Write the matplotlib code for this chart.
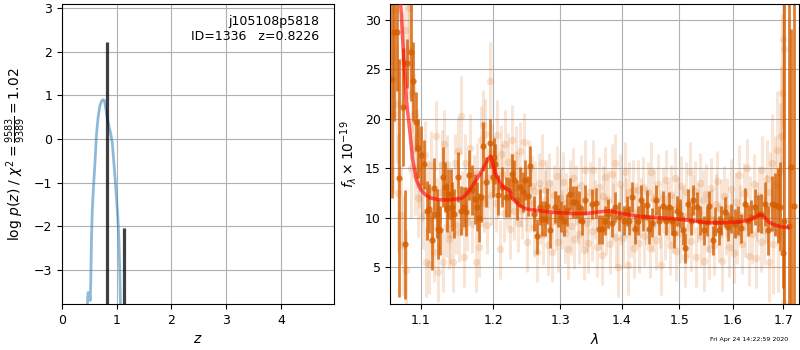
import numpy as np
import matplotlib
matplotlib.use('Agg')
import matplotlib.pyplot as plt
from matplotlib.ticker import NullLocator

# p(z) curve (log p(z) vs z)
pz_z = [0.46, 0.475, 0.50, 0.515, 0.525, 0.54, 0.555, 0.575, 0.60, 0.63, 0.66,
        0.69, 0.72, 0.75, 0.775, 0.80, 0.83, 0.86, 0.89, 0.92, 0.945, 0.97,
        0.995, 1.02, 1.04, 1.055, 1.07]
pz_logp = [-3.9, -3.52, -3.52, -3.7, -3.3, -2.2, -1.6, -1.1, -0.6, 0.1, 0.5,
           0.75, 0.86, 0.9, 0.88, 0.7, 0.45, 0.28, 0.12, -0.1, -0.5, -0.9,
           -1.35, -1.8, -2.3, -3.0, -3.9]

# redshift peaks drawn as vertical bars
peak_z = [0.815, 1.138]
peak_logp = [2.22, -2.03]

# binned spectrum (dark points)
dark_wave = [1.0622, 1.0651, 1.0685, 1.0715, 1.0762, 1.0792, 1.0822, 1.0865, 1.0899, 1.0934,
             1.0965, 1.1000, 1.1044, 1.1082, 1.1110, 1.1145, 1.1170, 1.1210, 1.1230, 1.1255,
             1.1300, 1.1320, 1.1345, 1.1362, 1.1400, 1.1420, 1.1450, 1.1496, 1.1537, 1.1580,
             1.1616, 1.1650, 1.1691, 1.1735, 1.1760, 1.1794, 1.1820, 1.1856, 1.1893, 1.1946,
             1.1990, 1.2013, 1.2026, 1.2070, 1.2123, 1.2177, 1.2222, 1.2266, 1.2302, 1.2337,
             1.2392, 1.2428, 1.2460, 1.2506, 1.2541, 1.2596, 1.2643, 1.2689, 1.2721, 1.2768,
             1.2804, 1.2851, 1.2922, 1.2969, 1.3016, 1.3064, 1.3112, 1.3159, 1.3208, 1.3256,
             1.3295, 1.3353, 1.3387, 1.3516, 1.3581, 1.3614, 1.3679, 1.3723, 1.3778, 1.3834,
             1.3889, 1.3945, 1.4029, 1.4080, 1.4125, 1.4171, 1.4228, 1.4268, 1.4325, 1.4366,
             1.4423, 1.4470, 1.4516, 1.4586, 1.4645, 1.4704, 1.4763, 1.4811, 1.4870, 1.4912,
             1.4954, 1.5014, 1.5062, 1.5110, 1.5153, 1.5214, 1.5256, 1.5323, 1.5385, 1.5446,
             1.5508, 1.5552, 1.5615, 1.5666, 1.5729, 1.5779, 1.5844, 1.5907, 1.5971, 1.6035,
             1.6099, 1.6163, 1.6228, 1.6294, 1.6359, 1.6425, 1.6491, 1.6557, 1.6624, 1.6691,
             1.6759, 1.6827, 1.6895, 1.6936, 1.6998, 1.7010, 1.7109, 1.7160, 1.7214]
dark_flux = [24.0, 28.8, 28.8, 14.0, 21.2, 7.3, 25.6, 26.8, 23.8, 19.7,
             17.0, 16.3, 15.4, 10.7, 10.9, 7.7, 13.0, 10.4, 8.8, 8.7,
             14.1, 13.1, 11.0, 12.4, 12.4, 11.1, 10.4, 14.1, 10.7, 11.1,
             10.6, 14.3, 12.8, 11.9, 11.1, 10.0, 12.1, 17.2, 13.6, 17.5,
             14.1, 16.1, 15.4, 12.3, 13.1, 12.1, 12.1, 14.4, 13.8, 11.8,
             13.1, 12.6, 13.8, 12.2, 15.2, 10.4, 8.1, 11.1, 9.9, 9.9,
             11.2, 8.7, 11.1, 10.7, 10.1, 9.7, 10.8, 12.4, 11.6, 11.6,
             11.1, 9.7, 11.8, 11.4, 11.5, 8.8, 8.8, 9.7, 10.4, 9.5,
             11.1, 10.1, 9.7, 10.7, 9.7, 12.1, 8.8, 9.7, 11.8, 10.1,
             11.3, 8.8, 9.5, 11.8, 9.7, 11.2, 9.7, 11.1, 9.7, 8.4,
             10.7, 10.4, 8.7, 6.9, 11.4, 9.7, 11.8, 11.1, 9.7, 8.7,
             9.6, 11.2, 7.7, 9.6, 8.7, 9.7, 10.6, 9.1, 9.9, 9.4,
             9.7, 8.9, 11.4, 9.7, 10.1, 11.1, 10.4, 10.4, 11.4, 8.7,
             11.4, 11.3, 11.2, 11.1, 6.4, 9.7, 9.2, 15.1, 11.2]
dark_err = [12, 9, 6, 12, 6, 5.5, 2.5, 5, 4, 3,
            3, 3, 2.5, 3, 2.5, 3, 3, 2.5, 3, 2.5,
            3, 2.5, 2.5, 2.5, 2.5, 2.5, 2.5, 2.5, 2.5, 2,
            2.5, 2.5, 2.5, 2.5, 2.5, 2.5, 2.5, 2.5, 2.5, 2.5,
            2, 2, 2, 2, 2, 2, 2, 2, 2, 2,
            2, 2, 2, 2, 2, 1.8, 1.8, 1.8, 1.8, 1.8,
            1.8, 1.8, 1.6, 1.6, 1.6, 1.6, 1.6, 1.6, 1.6, 1.6,
            1.6, 1.5, 1.5, 1.5, 1.5, 1.5, 1.5, 1.5, 1.5, 1.5,
            1.5, 1.5, 1.5, 1.5, 1.5, 1.5, 1.5, 1.5, 1.5, 1.5,
            1.5, 1.5, 1.5, 1.5, 1.5, 1.5, 1.5, 1.5, 1.5, 1.5,
            1.5, 1.5, 1.5, 1.5, 1.5, 1.5, 1.5, 1.5, 1.5, 1.5,
            1.5, 1.5, 1.5, 1.5, 1.5, 1.5, 1.5, 1.5, 1.5, 1.5,
            1.5, 1.5, 1.6, 1.6, 1.7, 1.8, 1.9, 2.0, 2.2, 2.5,
            2.8, 3.2, 3.8, 4.5, 3.5, 25, 25, 14, 25]

# unbinned spectrum (light points)
light_wave = [1.0635, 1.0660, 1.0690, 1.0705, 1.0735, 1.0750, 1.0770, 1.0785, 1.0800, 1.0830,
              1.0845, 1.0870, 1.0880, 1.0905, 1.0920, 1.0945, 1.0960, 1.0980, 1.1010, 1.1025,
              1.1055, 1.1070, 1.1090, 1.1110, 1.1130, 1.1150, 1.1170, 1.1195, 1.1215, 1.1230,
              1.1255, 1.1275, 1.1295, 1.1310, 1.1330, 1.1350, 1.1370, 1.1390, 1.1410, 1.1430,
              1.1455, 1.1475, 1.1495, 1.1515, 1.1540, 1.1555, 1.1580, 1.1600, 1.1625, 1.1650,
              1.1670, 1.1700, 1.1720, 1.1745, 1.1760, 1.1790, 1.1815, 1.1830, 1.1850, 1.1870,
              1.1885, 1.1905, 1.1925, 1.1950, 1.1970, 1.1985, 1.2010, 1.2030, 1.2050, 1.2070,
              1.2090, 1.2110, 1.2130, 1.2150, 1.2170, 1.2190, 1.2215, 1.2235, 1.2255, 1.2275,
              1.2300, 1.2325, 1.2345, 1.2365, 1.2385, 1.2405, 1.2425, 1.2450, 1.2475, 1.2500,
              1.2520, 1.2545, 1.2570, 1.2595, 1.2620, 1.2645, 1.2670, 1.2690, 1.2715, 1.2740,
              1.2760, 1.2785, 1.2810, 1.2830, 1.2855, 1.2880, 1.2905, 1.2930, 1.2955, 1.2975,
              1.3000, 1.3025, 1.3050, 1.3075, 1.3100, 1.3125, 1.3150, 1.3175, 1.3200, 1.3225,
              1.3250, 1.3275, 1.3300, 1.3325, 1.3350, 1.3375, 1.3400, 1.3425, 1.3450, 1.3480,
              1.3505, 1.3530, 1.3560, 1.3585, 1.3615, 1.3640, 1.3665, 1.3695, 1.3720, 1.3745,
              1.3775, 1.3800, 1.3830, 1.3855, 1.3885, 1.3910, 1.3940, 1.3965, 1.3995, 1.4020,
              1.4050, 1.4075, 1.4105, 1.4130, 1.4160, 1.4190, 1.4215, 1.4245, 1.4270, 1.4300,
              1.4330, 1.4360, 1.4385, 1.4415, 1.4445, 1.4475, 1.4505, 1.4530, 1.4560, 1.4590,
              1.4620, 1.4650, 1.4680, 1.4710, 1.4740, 1.4770, 1.4800, 1.4830, 1.4860, 1.4890,
              1.4920, 1.4950, 1.4980, 1.5010, 1.5040, 1.5070, 1.5100, 1.5130, 1.5160, 1.5190,
              1.5220, 1.5250, 1.5280, 1.5310, 1.5340, 1.5370, 1.5400, 1.5430, 1.5460, 1.5490,
              1.5520, 1.5550, 1.5580, 1.5610, 1.5640, 1.5670, 1.5700, 1.5735, 1.5765, 1.5795,
              1.5830, 1.5860, 1.5890, 1.5920, 1.5955, 1.5985, 1.6015, 1.6050, 1.6080, 1.6110,
              1.6145, 1.6175, 1.6210, 1.6240, 1.6275, 1.6305, 1.6340, 1.6370, 1.6405, 1.6440,
              1.6470, 1.6505, 1.6540, 1.6570, 1.6605, 1.6640, 1.6670, 1.6705, 1.6735, 1.6765,
              1.6795, 1.6830, 1.6860, 1.6890, 1.6920, 1.6950, 1.6975, 1.7000, 1.7020, 1.7005]
light_flux = [20.5, 31.0, 21.5, 12.5, 10.3, 25.8, 7.2, 29.0, 4.7, 27.0,
              31.2, 15.0, 22.6, 20.5, 14.3, 17.0, 12.0, 15.0, 13.2, 10.3,
              16.3, 5.5, 12.8, 5.3, 15.3, 9.9, 6.5, 18.3, 11.0, 4.5,
              12.6, 15.4, 5.5, 17.4, 9.0, 15.4, 7.8, 8.3, 12.0, 5.5,
              15.5, 9.3, 16.7, 8.5, 20.3, 11.7, 6.0, 15.5, 9.6, 12.7,
              17.0, 9.4, 13.3, 5.5, 14.5, 7.0, 17.8, 12.0, 19.4, 11.5,
              18.5, 9.3, 14.0, 23.8, 12.3, 16.5, 15.3, 11.5, 18.4, 13.0,
              6.8, 16.4, 14.4, 10.5, 17.4, 12.0, 15.6, 8.8, 13.5, 17.9,
              10.7, 16.3, 13.0, 9.5, 16.7, 12.0, 10.8, 17.6, 11.6, 7.5,
              14.8, 11.5, 13.2, 9.0, 12.7, 6.5, 13.5, 10.3, 15.5, 8.2,
              11.8, 12.8, 7.2, 13.5, 10.8, 6.5, 12.3, 9.7, 14.2, 7.5,
              12.0, 9.8, 13.6, 8.4, 11.5, 6.8, 12.8, 9.2, 14.0, 7.8,
              12.3, 10.4, 8.3, 13.3, 10.0, 6.7, 14.8, 9.5, 7.4, 12.6,
              8.6, 14.8, 10.8, 7.0, 13.1, 9.7, 6.2, 12.2, 14.1, 9.2,
              11.8, 7.3, 14.4, 10.5, 15.5, 8.0, 5.0, 13.4, 10.2, 7.9,
              14.6, 11.0, 5.2, 12.6, 9.0, 12.8, 6.9, 10.5, 12.8, 7.4,
              11.0, 13.1, 8.1, 10.2, 12.6, 6.9, 14.6, 9.5, 11.9, 7.7,
              13.4, 9.9, 5.2, 12.0, 8.7, 13.8, 10.6, 7.2, 12.3, 9.4,
              14.0, 6.6, 11.1, 8.4, 13.2, 10.2, 6.0, 12.6, 9.0, 14.6,
              7.6, 11.3, 12.7, 6.0, 10.5, 13.5, 8.1, 11.8, 5.6, 12.4,
              9.6, 6.8, 13.0, 9.9, 7.2, 11.4, 13.7, 8.5, 10.9, 5.6,
              12.2, 9.2, 11.0, 7.0, 12.9, 9.6, 6.4, 11.6, 8.3, 14.3,
              10.3, 7.3, 12.5, 9.0, 15.0, 6.1, 11.2, 8.3, 13.4, 5.9,
              10.6, 12.2, 7.5, 14.8, 8.7, 10.9, 13.9, 5.5, 12.6, 15.5,
              7.3, 13.3, 16.8, 8.5, 14.6, 18.3, 22.6, 28.1, 27.1, 1.4]
light_err = [8, 6, 6, 6, 5, 5, 5, 5, 4, 5,
             6, 5, 4, 4, 4, 4, 4, 4, 3.5, 3.5,
             3.5, 3.5, 3, 3, 3.5, 3, 3, 3.5, 3, 3,
             3, 3.5, 3, 3.5, 3, 3, 3, 3, 3, 3,
             3, 3, 3.5, 3, 4, 3, 3, 3, 3, 3,
             3.5, 3, 3, 3, 3, 3, 3.5, 3, 3.5, 3,
             3.5, 3, 3, 4, 3, 3, 3, 3, 3.5, 3,
             3, 3, 3, 3, 3.5, 3, 3, 3, 3, 3.5,
             3, 3, 3, 3, 3, 3, 3, 3, 3, 3,
             3, 3, 3, 3, 3, 3, 3, 3, 3, 3,
             3, 3, 3, 3, 3, 3, 3, 3, 3, 3,
             3, 3, 3, 3, 3, 3, 3, 3, 3, 3,
             3, 3, 3, 3, 3, 3, 3, 3, 3, 3,
             3, 3, 3, 3, 3, 3, 3, 3, 3, 3,
             3, 3, 3, 3, 3, 3, 3, 3, 3, 3,
             3, 3, 3, 3, 3, 3, 3, 3, 3, 3,
             3, 3, 3, 3, 3, 3, 3, 3, 3, 3,
             3, 3, 3, 3, 3, 3, 3, 3, 3, 3,
             3, 3, 3, 3, 3, 3, 3, 3, 3, 3,
             3, 3, 3, 3, 3, 3, 3, 3, 3, 3,
             3, 3, 3, 3, 3, 3, 3, 3, 3, 3,
             3, 3, 3, 3, 3, 3, 3, 3, 3, 3,
             3, 3, 3, 3, 3, 3, 3, 3, 3, 3,
             3, 3, 3, 3.5, 3.5, 3.5, 4, 4, 4, 5,
             5, 5, 6, 6, 7, 7, 8, 9, 9, 8]

# best-fit model
model_wave = [1.0650, 1.0700, 1.0740, 1.0780, 1.0810, 1.0857, 1.0890, 1.0940, 1.1000, 1.1060,
              1.1120, 1.1250, 1.1390, 1.1550, 1.1610, 1.1660, 1.1720, 1.1780, 1.1840, 1.1890,
              1.1930, 1.1960, 1.2035, 1.2090, 1.2140, 1.2235, 1.2282, 1.2380, 1.2475, 1.2612,
              1.2834, 1.2945, 1.3230, 1.3460, 1.3620, 1.3790, 1.4010, 1.4300, 1.4590, 1.4870,
              1.5170, 1.5480, 1.5790, 1.6110, 1.6310, 1.6440, 1.6540, 1.6600, 1.6700, 1.6840,
              1.6970, 1.7090]
model_flux = [38.0, 34.5, 31.0, 25.5, 21.8, 18.5, 15.9, 13.8, 12.8, 12.3,
              12.0, 11.8, 11.8, 11.95, 12.3, 12.8, 13.4, 14.1, 14.8, 15.5,
              16.0, 16.2, 14.4, 13.6, 13.1, 12.76, 11.9, 11.24, 10.9, 10.74,
              10.57, 10.5, 10.4, 10.45, 10.57, 10.7, 10.4, 10.13, 10.0, 9.9,
              9.73, 9.5, 9.46, 9.56, 9.73, 10.06, 10.3, 10.13, 9.56, 9.23,
              9.06, 9.0]

lam_ticks = [1.1, 1.2, 1.3, 1.4, 1.5, 1.6, 1.7]

grism_color = (0.835, 0.369, 0.0)

fig = plt.figure(figsize=(8, 3.5), dpi=100)

# left: redshift probability
ax = fig.add_axes([0.0775, 0.1314, 0.34, 0.857])
ax.plot(pz_z, pz_logp, color='C0', alpha=0.5, lw=2)
ax.vlines(peak_z, -4, peak_logp, color='k', alpha=0.75, lw=2.3)
ax.set_xlim(0, 4.97)
ax.set_ylim(-3.78, 3.09)
ax.set_xticks([0, 1, 2, 3, 4])
ax.set_yticks([-3, -2, -1, 0, 1, 2, 3])
ax.tick_params(labelsize=9)
ax.grid()
ax.set_xlabel('$z$', fontsize=10)
ax.set_ylabel(r'log $p(z)$ / $\chi^2=\frac{9583}{9389}=1.02$', fontsize=10)
ax.text(0.945, 0.965, 'j105108p5818\nID=1336   z=0.8226', transform=ax.transAxes,
        ha='right', va='top', fontsize=9)

# right: spectrum
ax2 = fig.add_axes([0.4881, 0.1314, 0.5106, 0.857])
ax2.errorbar(light_wave, light_flux, light_err, fmt='o', color=grism_color,
             alpha=0.16, ms=5.5, elinewidth=2.2, mec='none', capsize=0)
ax2.errorbar(dark_wave, dark_flux, dark_err, fmt='o', color=grism_color,
             alpha=0.8, ms=4.5, elinewidth=2.0, mec='none', capsize=0)
ax2.plot(model_wave, model_flux, color='r', alpha=0.6, lw=2.6, zorder=10)
ax2.set_xscale('log')
ax2.set_xlim(1.0604, 1.732)
ax2.set_ylim(1.26, 31.6)
ax2.set_xticks(lam_ticks)
ax2.set_xticklabels(['%.1f' % t for t in lam_ticks])
ax2.xaxis.set_minor_locator(NullLocator())
ax2.set_yticks([5, 10, 15, 20, 25, 30])
ax2.tick_params(labelsize=9)
ax2.grid()
ax2.set_xlabel(r'$\lambda$', fontsize=10)
ax2.set_ylabel(r'$f_\lambda \times 10^{-19}$', fontsize=10)

fig.text(0.985, 0.031, 'Fri Apr 24 14:22:59 2020', ha='right', va='center', fontsize=4.5)

fig.savefig('out.png', dpi=100)
